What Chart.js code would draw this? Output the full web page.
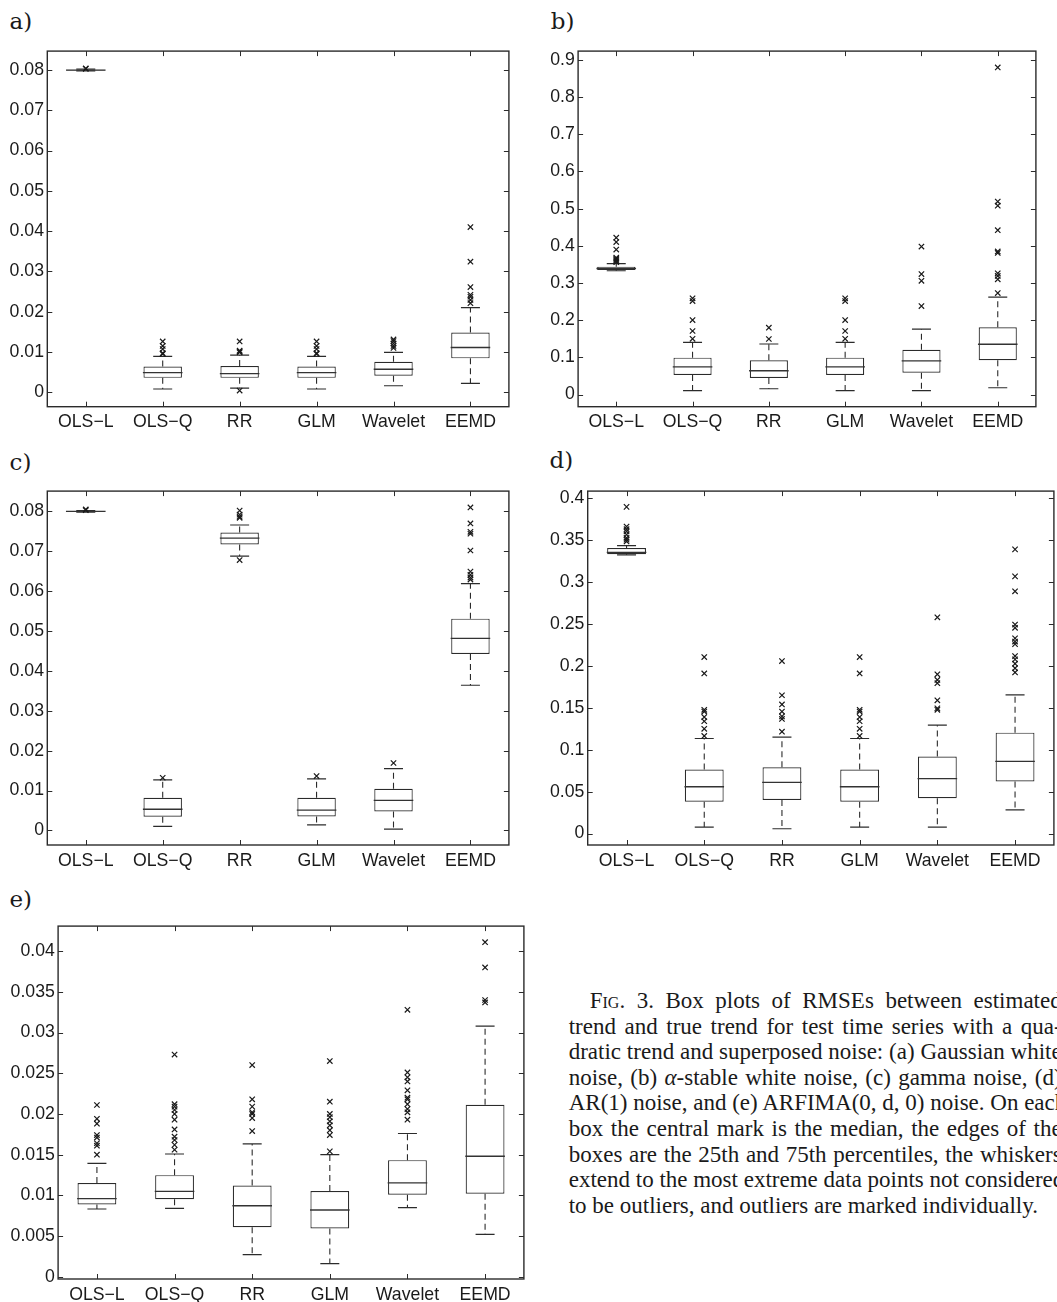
<!DOCTYPE html>
<html><head><meta charset="utf-8">
<script src="https://cdn.jsdelivr.net/npm/chart.js@4.4.1/dist/chart.umd.min.js"></script>
<style>
html,body{margin:0;padding:0;background:#fff;}
body{width:1057px;height:1302px;overflow:hidden;position:relative;}
canvas{position:absolute;}
.plab{position:absolute;font-family:"DejaVu Serif","Liberation Serif",serif;font-size:23px;line-height:23px;color:#1a1a1a;}
#cap{position:absolute;left:568.7px;top:988px;width:493px;font-family:"Liberation Serif","Times New Roman",serif;font-size:23px;line-height:25.6px;color:#1a1a1a;}
#cap div{text-align:justify;text-align-last:justify;white-space:nowrap;}
#cap div.last{text-align:left;text-align-last:left;}
</style>
</head><body>
<div class="plab" style="left:9.5px;top:9.9px">a)</div>
<div class="plab" style="left:550.8px;top:9.9px">b)</div>
<div class="plab" style="left:9.5px;top:450.6px">c)</div>
<div class="plab" style="left:549.5px;top:448.9px">d)</div>
<div class="plab" style="left:9.5px;top:887.9px">e)</div>
<canvas id="ca"></canvas><canvas id="cb"></canvas><canvas id="cc"></canvas><canvas id="cd"></canvas><canvas id="ce"></canvas>
<div id="cap">
<div style="text-indent:21px">F<span style="font-variant:small-caps">ig</span>. 3. Box plots of RMSEs between estimated</div>
<div>trend and true trend for test time series with a qua-</div>
<div>dratic trend and superposed noise: (a) Gaussian white</div>
<div>noise, (b) <i>α</i>-stable white noise, (c) gamma noise, (d)</div>
<div>AR(1) noise, and (e) ARFIMA(0, d, 0) noise. On each</div>
<div>box the central mark is the median, the edges of the</div>
<div>boxes are the 25th and 75th percentiles, the whiskers</div>
<div>extend to the most extreme data points not considered</div>
<div class="last">to be outliers, and outliers are marked individually.</div>
</div>
<script>
// ---------- DATA ----------
const categories = ['OLS\u2212L','OLS\u2212Q','RR','GLM','Wavelet','EEMD'];

// (a) Gaussian white noise
const aLo  = [0.0798, 0.0008, 0.0010, 0.0008, 0.0016, 0.0022];
const aQ1  = [0.0799, 0.00357, 0.00357, 0.00357, 0.0041, 0.0084];
const aMed = [0.0800, 0.00487, 0.0046, 0.00487, 0.0057, 0.0111];
const aQ3  = [0.08005, 0.0064, 0.0065, 0.0064, 0.00754, 0.0148];
const aHi  = [0.0802, 0.0089, 0.0092, 0.0089, 0.0099, 0.0210];
const aOut = [[0.0803,0.0804],[0.0095,0.0097,0.0107,0.0115,0.0126],[0.0004,0.0099,0.0101,0.0103,0.0126],[0.0095,0.0097,0.0107,0.0115,0.0126],[0.0110,0.0115,0.0121,0.0127,0.0131],[0.0221,0.0229,0.0237,0.0242,0.0261,0.0324,0.0410]];
const aTicks = [0,0.01,0.02,0.03,0.04,0.05,0.06,0.07,0.08];
const aRange = [-0.0036, 0.0847];

// (b) alpha-stable white noise
const bLo  = [0.333, 0.0106, 0.0158, 0.0106, 0.0106, 0.0185];
const bQ1  = [0.335, 0.0528, 0.0449, 0.0528, 0.059, 0.0923];
const bMed = [0.339, 0.0748, 0.0642, 0.0748, 0.0906, 0.1354];
const bQ3  = [0.344, 0.0994, 0.0923, 0.0994, 0.1205, 0.181];
const bHi  = [0.352, 0.1407, 0.136, 0.1407, 0.176, 0.262];
const bOut = [[0.356,0.359,0.362,0.365,0.368,0.39,0.41,0.422],[0.150,0.171,0.2005,0.2515,0.259],[0.1495,0.180],[0.150,0.171,0.2005,0.2515,0.259],[0.238,0.306,0.324,0.398],[0.273,0.310,0.319,0.326,0.381,0.385,0.442,0.508,0.519,0.8795]];
const bTicks = [0,0.1,0.2,0.3,0.4,0.5,0.6,0.7,0.8,0.9];
const bRange = [-0.0325, 0.9235];

// (c) gamma noise
const cLo  = [0.0798, 0.00098, 0.0688, 0.0014, 0.0003, 0.0364];
const cQ1  = [0.0799, 0.00343, 0.0717, 0.0035, 0.00473, 0.04424];
const cMed = [0.0800, 0.0053, 0.0733, 0.0051, 0.0075, 0.04816];
const cQ3  = [0.08005, 0.00816, 0.0747, 0.00816, 0.01045, 0.0531];
const cHi  = [0.0802, 0.01265, 0.0766, 0.0129, 0.0155, 0.0619];
const cOut = [[0.0803,0.0805],[0.0132],[0.0678,0.0784,0.0787,0.0792,0.0802],[0.01363],[0.0169],[0.0629,0.0634,0.0641,0.0649,0.0702,0.0744,0.0749,0.077,0.081]];
const cTicks = [0,0.01,0.02,0.03,0.04,0.05,0.06,0.07,0.08];
const cRange = [-0.00367, 0.0851];

// (d) AR(1) noise
const dLo  = [0.3324, 0.0078, 0.0058, 0.0078, 0.0078, 0.0283];
const dQ1  = [0.3331, 0.0381, 0.040, 0.0381, 0.0423, 0.0621];
const dMed = [0.3355, 0.0559, 0.061, 0.0559, 0.0656, 0.0862];
const dQ3  = [0.3407, 0.0765, 0.0792, 0.0765, 0.092, 0.1204];
const dHi  = [0.3435, 0.1134, 0.115, 0.1134, 0.1293, 0.1654];
const dOut = [[0.3485,0.3505,0.3526,0.3566,0.3604,0.3631,0.3662,0.3897],[0.1165,0.125,0.134,0.139,0.1456,0.1476,0.191,0.2105],[0.1216,0.1367,0.1398,0.1456,0.154,0.165,0.2058],[0.1165,0.125,0.134,0.139,0.1456,0.1476,0.191,0.2105],[0.1476,0.1495,0.159,0.1794,0.1833,0.190,0.258],[0.1922,0.1973,0.2027,0.2078,0.2117,0.226,0.229,0.233,0.2454,0.2493,0.289,0.3068,0.339]];
const dTicks = [0,0.05,0.1,0.15,0.2,0.25,0.3,0.35,0.4];
const dRange = [-0.0136, 0.4085];

// (e) ARFIMA(0,d,0) noise
const eLo  = [0.00832, 0.0084, 0.00272, 0.0016, 0.00848, 0.0052];
const eQ1  = [0.00888, 0.00952, 0.00608, 0.00592, 0.01008, 0.0102];
const eMed = [0.0096, 0.01048, 0.00872, 0.0082, 0.01152, 0.0148];
const eQ3  = [0.01152, 0.01248, 0.0112, 0.01052, 0.01432, 0.02112];
const eHi  = [0.01392, 0.01508, 0.01632, 0.015, 0.0176, 0.0308];
const eOut = [[0.015,0.0161,0.0164,0.0171,0.0174,0.0188,0.0194,0.0211],[0.0156,0.0162,0.0168,0.0172,0.0181,0.0193,0.020,0.0205,0.0209,0.0212,0.0273],[0.0179,0.0195,0.020,0.0202,0.0209,0.0218,0.026],[0.0154,0.0174,0.018,0.0186,0.0191,0.0196,0.020,0.0215,0.0265],[0.0193,0.0202,0.0206,0.0212,0.0218,0.022,0.0229,0.024,0.0245,0.0251,0.0328],[0.0337,0.034,0.038,0.0411]];
const eTicks = [0,0.005,0.01,0.015,0.02,0.025,0.03,0.035,0.04];
const eRange = [-0.00028, 0.04308];

// ---------- LAYOUT (canvas placement and frame geometry) ----------
const layouts = {
  ca: {left:0,   top:30,  w:530, h:410, frame:{l:47.3,  t:44.3,  r:522.2,  b:406.7}},
  cb: {left:530, top:30,  w:527, h:410, frame:{l:578.1, t:44.3,  r:1052.6, b:406.7}},
  cc: {left:0,   top:470, w:530, h:410, frame:{l:47.3,  t:482.3, r:522.2,  b:845.0}},
  cd: {left:530, top:470, w:545, h:410, frame:{l:587.7, t:482.7, r:1062.3, b:845.0}},
  ce: {left:0,   top:905, w:545, h:420, frame:{l:58.1,  t:917.7, r:532.9,  b:1279.0}}
};

Chart.defaults.font.family = '"Liberation Sans", Arial, Helvetica, sans-serif';
Chart.defaults.font.size = 17.7;
Chart.defaults.color = '#1a1a1a';

const LINE = '#2b2b2b';
const fmt = v => String(parseFloat(Number(v).toFixed(4)));

const framePlugin = {
  id: 'matlabFrame',
  afterDraw(chart) {
    const {ctx, chartArea: a, scales} = chart;
    const tl = 5;
    ctx.save();
    ctx.strokeStyle = LINE;
    ctx.lineWidth = 1;
    ctx.beginPath();
    scales.y.ticks.forEach(t => {
      const y = Math.round(scales.y.getPixelForValue(t.value)) + 0.5;
      ctx.moveTo(a.left, y); ctx.lineTo(a.left + tl, y);
      ctx.moveTo(a.right, y); ctx.lineTo(a.right - tl, y);
    });
    categories.forEach((c, i) => {
      const x = Math.round(scales.x.getPixelForValue(i)) + 0.5;
      ctx.moveTo(x, a.top); ctx.lineTo(x, a.top + tl);
      ctx.moveTo(x, a.bottom); ctx.lineTo(x, a.bottom - tl);
    });
    ctx.stroke();
    ctx.lineWidth = 1.4;
    ctx.strokeRect(a.left, a.top, a.right - a.left, a.bottom - a.top);
    ctx.restore();
  }
};

function makePanel(id, lo, q1, med, q3, hi, out, ticks, range) {
  const L = layouts[id];
  const cv = document.getElementById(id);
  cv.width = L.w; cv.height = L.h;
  cv.style.left = L.left + 'px'; cv.style.top = L.top + 'px';
  cv.style.width = L.w + 'px'; cv.style.height = L.h + 'px';
  const yW = L.frame.l - L.left;
  const xH = (L.top + L.h) - L.frame.b;
  const padTop = L.frame.t - L.top;
  const padRight = (L.left + L.w) - L.frame.r;

  const stems = [];
  categories.forEach((c, i) => {
    stems.push({x:c, y:q3[i]}, {x:c, y:hi[i]}, {x:c, y:null});
    stems.push({x:c, y:q1[i]}, {x:c, y:lo[i]}, {x:c, y:null});
  });
  const caps = [];
  categories.forEach((c, i) => { caps.push({x:c, y:lo[i]}, {x:c, y:hi[i]}); });
  const meds = categories.map((c, i) => ({x:c, y:med[i]}));
  const outs = [];
  categories.forEach((c, i) => out[i].forEach(v => outs.push({x:c, y:v})));

  new Chart(cv, {
    type: 'bar',
    data: {
      labels: categories,
      datasets: [
        {type:'bar', data: q1.map((v, i) => [v, q3[i]]), backgroundColor:'#ffffff',
         borderColor: LINE, borderWidth: 1.2, borderSkipped: false,
         barPercentage: 0.5, categoryPercentage: 1, order: 5},
        {type:'line', data: stems, borderColor: LINE, borderWidth: 1.1, borderDash: [6, 4],
         pointRadius: 0, spanGaps: false, fill: false, order: 4},
        {type:'line', data: caps, showLine: false, pointStyle: 'line', pointRadius: 9.5,
         pointBorderColor: LINE, pointBorderWidth: 1.2, order: 3},
        {type:'line', data: meds, showLine: false, pointStyle: 'line', pointRadius: 19.8,
         pointBorderColor: '#333', pointBorderWidth: 1.3, order: 2},
        {type:'line', data: outs, showLine: false, pointStyle: 'crossRot', pointRadius: 3.8,
         pointBorderColor: '#1a1a1a', pointBorderWidth: 1.2, order: 1}
      ]
    },
    options: {
      responsive: false, animation: false, events: [],
      layout: {padding: {top: padTop, right: padRight, left: 0, bottom: 0}},
      plugins: {legend: {display: false}, tooltip: {enabled: false}},
      scales: {
        x: {type: 'category', offset: true,
            grid: {display: false, drawTicks: false}, border: {display: false},
            ticks: {padding: 5, maxRotation: 0, autoSkip: false},
            afterFit: s => { s.height = xH; }},
        y: {type: 'linear', min: range[0], max: range[1],
            grid: {display: false, drawTicks: false}, border: {display: false},
            ticks: {padding: 3.3, includeBounds: false, callback: v => fmt(v)},
            afterBuildTicks: s => { s.ticks = ticks.map(v => ({value: v})); },
            afterFit: s => { s.width = yW; }}
      }
    },
    plugins: [framePlugin]
  });
}

makePanel('ca', aLo, aQ1, aMed, aQ3, aHi, aOut, aTicks, aRange);
makePanel('cb', bLo, bQ1, bMed, bQ3, bHi, bOut, bTicks, bRange);
makePanel('cc', cLo, cQ1, cMed, cQ3, cHi, cOut, cTicks, cRange);
makePanel('cd', dLo, dQ1, dMed, dQ3, dHi, dOut, dTicks, dRange);
makePanel('ce', eLo, eQ1, eMed, eQ3, eHi, eOut, eTicks, eRange);
</script>
</body></html>
